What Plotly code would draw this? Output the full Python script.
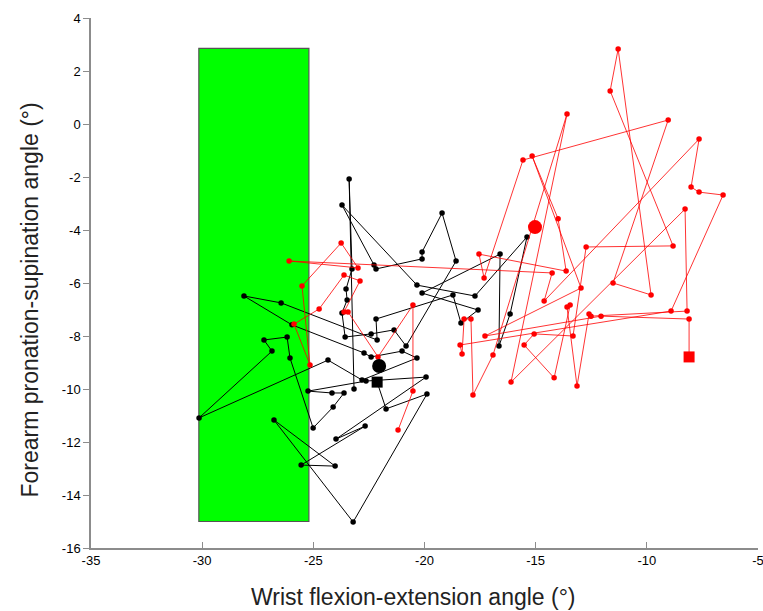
import plotly.graph_objects as go

# Trajectory of the first condition (black), in visiting order
black_x = [-23.17, -23.39, -23.26, -23.53, -23.48, -23.71, -23.57, -22.40, -21.37, -20.83,
           -18.58, -19.21, -20.11, -20.11, -22.18, -22.27, -23.71, -20.34, -17.73, -15.39,
           -16.15, -16.65, -16.60, -20.11, -17.59, -18.36, -18.72, -22.18, -22.13, -26.45,
           -28.12, -25.96, -22.72, -22.40, -21.01, -20.34, -22.81, -24.34, -30.14, -26.86,
           -27.22, -26.18, -26.05, -25.01, -24.11, -23.62, -24.16, -25.24, -22.63, -19.93,
           -23.98, -22.67, -25.55, -24.02, -26.77, -23.21, -19.89, -21.73, -22.13]
black_y = [-10.00, -2.08, -5.47, -6.23, -6.64, -7.13, -8.04, -7.92, -7.77, -8.38,
           -5.17, -3.36, -4.83, -5.09, -5.47, -5.32, -3.06, -6.08, -6.49, -4.26,
           -7.17, -8.38, -4.91, -6.38, -7.02, -7.51, -6.45, -7.36, -8.15, -6.75,
           -6.49, -7.58, -8.64, -8.79, -8.57, -8.83, -9.66, -8.91, -11.09, -8.57,
           -8.15, -8.04, -8.83, -11.47, -10.68, -10.15, -10.15, -10.08, -9.70, -9.55,
           -11.89, -11.40, -12.87, -12.91, -11.17, -15.02, -10.19, -10.75, -9.74]

# Trajectory of the second condition (red), in visiting order
red_x = [-21.19, -20.52, -20.52, -22.09, -23.44, -23.62, -22.90, -23.62, -24.74, -25.87,
         -25.15, -25.51, -23.75, -22.99, -26.09, -14.26, -14.62, -7.65, -8.01, -7.65,
         -6.57, -8.91, -18.40, -18.31, -18.22, -17.91, -17.82, -16.92, -13.59, -16.11,
         -8.28, -8.19, -12.51, -12.60, -13.14, -13.59, -13.45, -14.17, -15.52, -15.07,
         -13.32, -12.73, -8.82, -11.65, -11.29, -9.81, -11.52, -9.04, -15.57, -17.32,
         -17.55, -13.63, -13.99, -15.16, -12.96, -17.28, -12.06, -8.10, -8.10]
red_y = [-11.55, -10.08, -6.83, -8.79, -7.09, -7.09, -5.92, -5.70, -6.98, -7.55,
         -9.09, -6.11, -4.49, -5.43, -5.17, -5.62, -6.68, -0.57, -2.38, -2.57,
         -2.68, -7.06, -8.34, -8.68, -7.36, -7.36, -10.23, -8.72, 0.38, -9.74,
         -3.21, -7.06, -7.25, -7.17, -9.89, -6.91, -6.83, -9.58, -8.34, -7.92,
         -8.00, -4.64, -4.60, 1.25, 2.83, -6.45, -6.00, 0.15, -1.36, -5.81,
         -4.91, -5.55, -3.58, -1.21, -6.19, -8.00, -7.25, -7.36, -8.79]

# Mean positions of each trajectory
black_mean = (-22.04, -9.13)
red_mean = (-15.03, -3.89)

# Target zone
zone_x = (-30.15, -25.2)
zone_y = (-15.0, 2.85)

# Axis ticks (labels written with a plain hyphen)
x_ticks = [-35, -30, -25, -20, -15, -10, -5]
y_ticks = [-16, -14, -12, -10, -8, -6, -4, -2, 0, 2, 4]
x_labels = [str(v) for v in x_ticks]
y_labels = [str(v) for v in y_ticks]

fig = go.Figure()

fig.add_shape(type="rect", x0=zone_x[0], x1=zone_x[1], y0=zone_y[0], y1=zone_y[1],
              xref="x", yref="y", fillcolor="#00ff00",
              line=dict(color="#555555", width=1.2), layer="below")

fig.add_trace(go.Scatter(x=black_x, y=black_y, mode="lines+markers",
                         line=dict(color="black", width=1),
                         marker=dict(color="black", size=5.5),
                         showlegend=False))
fig.add_trace(go.Scatter(x=red_x, y=red_y, mode="lines+markers",
                         line=dict(color="rgba(255,0,0,0.8)", width=1),
                         marker=dict(color="red", size=5.5),
                         showlegend=False))

# end points as squares
fig.add_trace(go.Scatter(x=[black_x[-1]], y=[black_y[-1]], mode="markers",
                         marker=dict(color="black", size=11, symbol="square"),
                         showlegend=False))
fig.add_trace(go.Scatter(x=[red_x[-1]], y=[red_y[-1]], mode="markers",
                         marker=dict(color="red", size=11, symbol="square"),
                         showlegend=False))

# means as large circles
fig.add_trace(go.Scatter(x=[black_mean[0]], y=[black_mean[1]], mode="markers",
                         marker=dict(color="black", size=14),
                         showlegend=False))
fig.add_trace(go.Scatter(x=[red_mean[0]], y=[red_mean[1]], mode="markers",
                         marker=dict(color="red", size=14),
                         showlegend=False))

tick_font = dict(family="Liberation Sans, Arial, sans-serif", size=13, color="black")
title_font = dict(family="Liberation Sans, Arial, sans-serif", size=23, color="#222222")

fig.update_layout(
    width=763, height=611,
    margin=dict(l=91, r=5, t=18, b=63, autoexpand=False),
    paper_bgcolor="white", plot_bgcolor="white",
    xaxis=dict(range=[-35, -5], tickmode="array", tickvals=x_ticks, ticktext=x_labels,
               ticklabeloverflow="allow", automargin=False,
               showgrid=False, zeroline=False,
               showline=True, linecolor="#8c8c8c", linewidth=1.5,
               ticks="inside", ticklen=6, tickcolor="#8c8c8c", tickwidth=1,
               tickfont=tick_font),
    yaxis=dict(range=[-16, 4], tickmode="array", tickvals=y_ticks, ticktext=y_labels,
               ticklabeloverflow="allow", automargin=False,
               showgrid=False, zeroline=False,
               showline=True, linecolor="#8c8c8c", linewidth=1.5,
               ticks="outside", ticklen=6, tickcolor="#8c8c8c", tickwidth=1,
               tickfont=tick_font),
    annotations=[
        dict(text="Wrist flexion-extension angle (°)", font=title_font,
             xref="paper", yref="paper", x=0.483, y=-0.092,
             xanchor="center", yanchor="middle", showarrow=False),
        dict(text="Forearm pronation-supination angle (°)", font=title_font,
             xref="paper", yref="paper", x=-0.092, y=0.468, textangle=-90,
             xanchor="center", yanchor="middle", showarrow=False),
    ],
)

fig.write_html("out.html")
